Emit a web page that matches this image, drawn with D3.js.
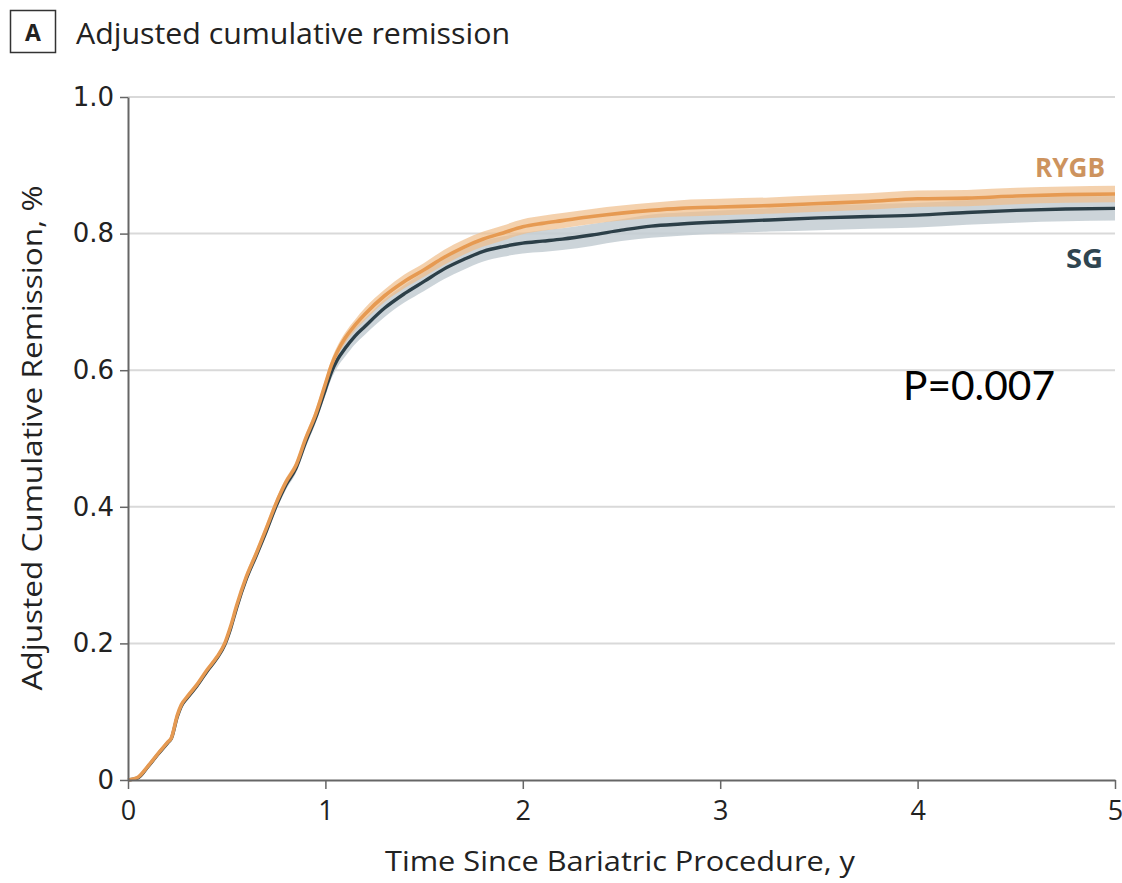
<!DOCTYPE html>
<html>
<head>
<meta charset="utf-8">
<script src="https://cdn.jsdelivr.net/npm/d3@7"></script>
<style>
  body { margin: 0; background: #fff; }
  svg { display: block; }
</style>
</head>
<body>
<script>
// years since surgery
const time = [0, 0.05, 0.1, 0.15, 0.2, 0.22, 0.25, 0.27, 0.3, 0.35, 0.4, 0.45, 0.49, 0.52, 0.55, 0.6, 0.65, 0.7, 0.75, 0.8,
  0.85, 0.9, 0.95, 1.0, 1.03, 1.06, 1.1, 1.15, 1.2, 1.3, 1.4, 1.5, 1.6, 1.7, 1.8, 1.9, 2.0, 2.1, 2.2, 2.35,
  2.5, 2.65, 2.8, 3.0, 3.25, 3.5, 3.75, 4.0, 4.25, 4.5, 4.75, 5.0];

const rygb = [0, 0.004, 0.02, 0.038, 0.055, 0.062, 0.095, 0.11, 0.122, 0.14, 0.161, 0.18, 0.2, 0.225, 0.255, 0.298, 0.332, 0.368, 0.405, 0.436,
  0.46, 0.5, 0.535, 0.58, 0.607, 0.627, 0.647, 0.666, 0.682, 0.709, 0.73, 0.747, 0.765, 0.78, 0.792, 0.801, 0.81, 0.815, 0.819, 0.825,
  0.83, 0.834, 0.837, 0.839, 0.841, 0.844, 0.847, 0.851, 0.852, 0.855, 0.857, 0.858];

const sg = [0, 0.003, 0.019, 0.037, 0.054, 0.061, 0.093, 0.108, 0.12, 0.138, 0.159, 0.178, 0.198, 0.222, 0.252, 0.295, 0.329, 0.364, 0.401, 0.432,
  0.456, 0.495, 0.53, 0.572, 0.597, 0.615, 0.632, 0.65, 0.664, 0.691, 0.712, 0.73, 0.748, 0.762, 0.774, 0.781, 0.786, 0.789, 0.792, 0.798,
  0.805, 0.811, 0.814, 0.817, 0.82, 0.823, 0.825, 0.827, 0.831, 0.834, 0.836, 0.837];

// half width of the confidence band
const rygbHalf = [0, 0.002, 0.003, 0.003, 0.003, 0.003, 0.003, 0.003, 0.003, 0.003, 0.003, 0.003, 0.004, 0.005, 0.005, 0.006, 0.006, 0.006, 0.006, 0.006,
  0.006, 0.006, 0.007, 0.007, 0.008, 0.008, 0.008, 0.008, 0.009, 0.009, 0.01, 0.01, 0.011, 0.011, 0.011, 0.011, 0.011, 0.011, 0.011, 0.011,
  0.011, 0.011, 0.012, 0.012, 0.012, 0.012, 0.012, 0.012, 0.012, 0.012, 0.012, 0.012];

const sgHalf = [0, 0.002, 0.003, 0.003, 0.003, 0.003, 0.003, 0.003, 0.003, 0.003, 0.003, 0.003, 0.004, 0.005, 0.006, 0.006, 0.007, 0.007, 0.007, 0.007,
  0.007, 0.008, 0.008, 0.009, 0.01, 0.011, 0.012, 0.012, 0.012, 0.013, 0.013, 0.014, 0.015, 0.015, 0.015, 0.015, 0.015, 0.016, 0.016, 0.016,
  0.016, 0.017, 0.017, 0.017, 0.017, 0.018, 0.018, 0.018, 0.018, 0.018, 0.018, 0.018];

const xTicks = [0, 1, 2, 3, 4, 5];
const yTicks = [0, 0.2, 0.4, 0.6, 0.8, 1.0];

const width = 1122, height = 883;
const margin = { top: 97, right: 7, bottom: 103, left: 128 };

const condensed = "'Open Sans', 'Noto Sans', sans-serif";

const svg = d3.select("body").append("svg")
  .attr("width", width)
  .attr("height", height);

const x = d3.scaleLinear().domain([0, 5]).range([margin.left, width - margin.right]);
const y = d3.scaleLinear().domain([0, 1]).range([height - margin.bottom, margin.top]);

// panel title
svg.append("rect")
  .attr("x", 10.5).attr("y", 10.5)
  .attr("width", 45).attr("height", 42)
  .attr("fill", "#fff")
  .attr("stroke", "#333")
  .attr("stroke-width", 1.5);
svg.append("text")
  .attr("x", 33).attr("y", 41)
  .attr("text-anchor", "middle")
  .style("font-family", condensed)
  .style("font-weight", "bold")
  .style("font-size", "23px")
  .attr("fill", "#222")
  .text("A");
svg.append("text")
  .attr("x", 76).attr("y", 44)
  .attr("textLength", 434).attr("lengthAdjust", "spacingAndGlyphs")
  .style("font-family", condensed)
  .style("font-size", "29px")
  .attr("fill", "#222")
  .text("Adjusted cumulative remission");

// gridlines
svg.append("g")
  .selectAll("line")
  .data(yTicks.filter(d => d > 0))
  .join("line")
  .attr("x1", x(0)).attr("x2", x(5))
  .attr("y1", d => y(d)).attr("y2", d => y(d))
  .attr("stroke", "#d9d9d9")
  .attr("stroke-width", 2);

// confidence bands
const band = half => d3.area()
  .x((d, i) => x(time[i]))
  .y0((d, i) => y(d - half[i]))
  .y1((d, i) => y(d + half[i]))
  .curve(d3.curveMonotoneX);

svg.append("path")
  .datum(sg)
  .attr("d", band(sgHalf))
  .attr("fill", "#c3ccd2")
  .attr("opacity", 0.85);

svg.append("path")
  .datum(rygb)
  .attr("d", band(rygbHalf))
  .attr("fill", "#efbd8a")
  .attr("opacity", 0.7);

// survival-style curves
const line = d3.line()
  .x((d, i) => x(time[i]))
  .y(d => y(d))
  .curve(d3.curveMonotoneX);

svg.append("path")
  .datum(sg)
  .attr("d", line)
  .attr("fill", "none")
  .attr("stroke", "#2c3f48")
  .attr("stroke-width", 3.4);

svg.append("path")
  .datum(rygb)
  .attr("d", line)
  .attr("fill", "none")
  .attr("stroke", "#e69a52")
  .attr("stroke-width", 3.6);

// axes
const yAxis = svg.append("g")
  .attr("transform", `translate(${margin.left},0)`)
  .call(d3.axisLeft(y).tickValues(yTicks).tickSize(8).tickSizeOuter(0).tickPadding(6)
    .tickFormat(d => d === 0 ? "0" : d3.format(".1f")(d)));
yAxis.select(".domain").attr("stroke", "#666").attr("stroke-width", 2);
yAxis.selectAll(".tick line").attr("stroke", "#666").attr("stroke-width", 1.5);
yAxis.selectAll(".tick text")
  .attr("fill", "#222")
  .style("font-family", "'DejaVu Sans', Verdana, sans-serif")
  .style("font-size", "26px");

const xAxis = svg.append("g")
  .attr("transform", `translate(0,${height - margin.bottom})`)
  .call(d3.axisBottom(x).tickValues(xTicks).tickSize(9).tickSizeOuter(0).tickPadding(12)
    .tickFormat(d3.format("d")));
xAxis.select(".domain").attr("stroke", "#666").attr("stroke-width", 2);
xAxis.selectAll(".tick line").attr("stroke", "#666").attr("stroke-width", 1.5);
xAxis.selectAll(".tick text")
  .attr("fill", "#222")
  .style("font-family", condensed)
  .style("font-size", "27px");

// axis titles
svg.append("text")
  .attr("x", 620).attr("y", 871)
  .attr("text-anchor", "middle")
  .attr("textLength", 470).attr("lengthAdjust", "spacingAndGlyphs")
  .style("font-family", condensed)
  .style("font-size", "27px")
  .attr("fill", "#222")
  .text("Time Since Bariatric Procedure, y");

svg.append("text")
  .attr("transform", "translate(42,438) rotate(-90)")
  .attr("text-anchor", "middle")
  .attr("textLength", 505).attr("lengthAdjust", "spacingAndGlyphs")
  .style("font-family", condensed)
  .style("font-size", "27px")
  .attr("fill", "#222")
  .text("Adjusted Cumulative Remission, %");

// series labels
svg.append("text")
  .attr("x", 1105).attr("y", 177)
  .attr("text-anchor", "end")
  .attr("textLength", 70).attr("lengthAdjust", "spacingAndGlyphs")
  .style("font-family", condensed)
  .style("font-weight", "bold")
  .style("font-size", "26px")
  .attr("fill", "#cd935e")
  .text("RYGB");

svg.append("text")
  .attr("x", 1103).attr("y", 268)
  .attr("text-anchor", "end")
  .attr("textLength", 37).attr("lengthAdjust", "spacingAndGlyphs")
  .style("font-family", condensed)
  .style("font-weight", "bold")
  .style("font-size", "26px")
  .attr("fill", "#2f4550")
  .text("SG");

// p-value annotation
svg.append("text")
  .attr("x", 903).attr("y", 400)
  .attr("textLength", 152).attr("lengthAdjust", "spacingAndGlyphs")
  .style("font-family", "Lato, 'Open Sans', sans-serif")
  .style("font-size", "41px")
  .attr("fill", "#000")
  .text("P=0.007");
</script>
</body>
</html>
